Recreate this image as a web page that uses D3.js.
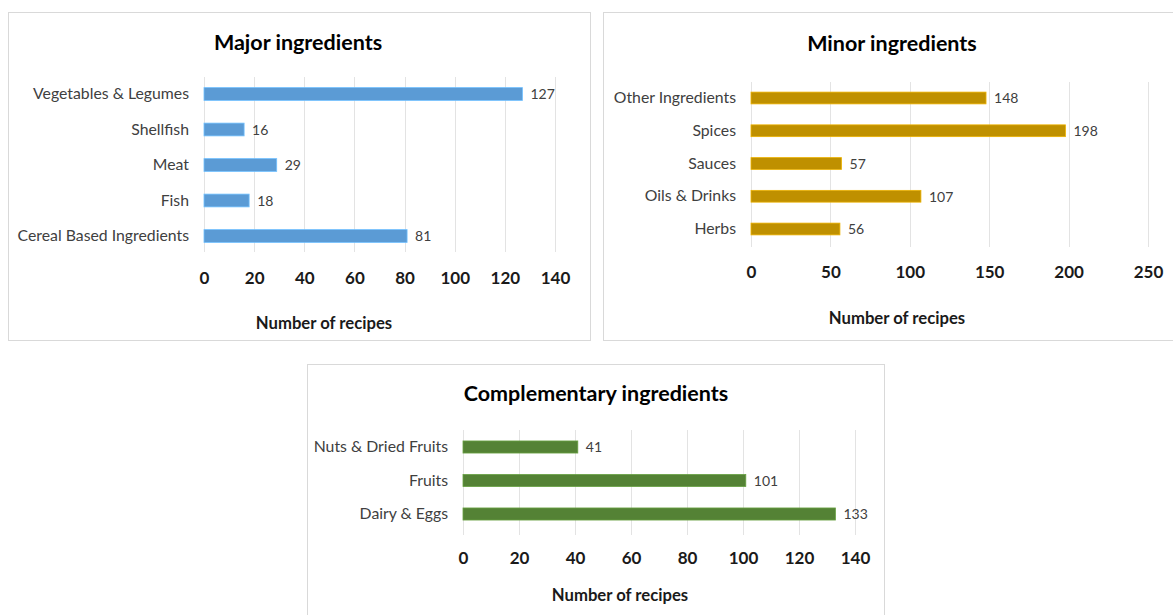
<!DOCTYPE html>
<html><head><meta charset="utf-8">
<script src="https://cdn.jsdelivr.net/npm/d3@7"></script>
<style>
html,body{margin:0;padding:0;background:#fff;}
svg{display:block;font-family:Lato,"Open Sans",sans-serif;}
</style></head>
<body><svg id="c" width="1173" height="615"></svg>
<script>
const majorCategories = ["Vegetables & Legumes","Shellfish","Meat","Fish","Cereal Based Ingredients"];
const majorValues = [127,16,29,18,81];
const majorTicks = [0,20,40,60,80,100,120,140];

const minorCategories = ["Other Ingredients","Spices","Sauces","Oils & Drinks","Herbs"];
const minorValues = [148,198,57,107,56];
const minorTicks = [0,50,100,150,200,250];

const compCategories = ["Nuts & Dried Fruits","Fruits","Dairy & Eggs"];
const compValues = [41,101,133];
const compTicks = [0,20,40,60,80,100,120,140];

const titles = ["Major ingredients","Minor ingredients","Complementary ingredients"];
const axisTitle = "Number of recipes";

const svg = d3.select("#c");

const panels = [
  {cats:majorCategories, vals:majorValues, ticks:majorTicks, title:titles[0], color:"#5B9BD5",
   box:[8,12,582,328], titleXY:[298,42], xr:[204,555], rows:[94,236], grid:[77,252], tickY:278, axXY:[324,323]},
  {cats:minorCategories, vals:minorValues, ticks:minorTicks, title:titles[1], color:"#BF9000",
   box:[603,12,620,328], titleXY:[892,43], xr:[751,1148], rows:[98,229], grid:[82,247], tickY:272, axXY:[897,318]},
  {cats:compCategories, vals:compValues, ticks:compTicks, title:titles[2], color:"#548235",
   box:[307,364,577,300], titleXY:[596,393], xr:[463,855], rows:[447,514], grid:[430,535], tickY:558, axXY:[620,595]}
];

panels.forEach(p => {
  const g = svg.append("g");
  g.append("rect").attr("x",p.box[0]+0.5).attr("y",p.box[1]+0.5).attr("width",p.box[2]).attr("height",p.box[3])
    .attr("fill","#fff").attr("stroke","#D9D9D9").attr("stroke-width",1);
  g.append("text").attr("x",p.titleXY[0]).attr("y",p.titleXY[1]).attr("text-anchor","middle")
    .attr("dy","0.35em").attr("font-size",21.5).attr("font-weight","bold").attr("fill","#000").text(p.title);

  const x = d3.scaleLinear().domain([p.ticks[0], p.ticks[p.ticks.length-1]]).range(p.xr);
  const n = p.cats.length;
  const step = (p.rows[1]-p.rows[0])/(n-1);
  const y = d3.scaleBand().domain(p.cats).range([p.rows[0]-step/2, p.rows[1]+step/2]).paddingInner(0.64).paddingOuter(0.32);

  g.append("g").selectAll("line").data(p.ticks).join("line")
    .attr("x1",d=>Math.round(x(d))+0.5).attr("x2",d=>Math.round(x(d))+0.5)
    .attr("y1",p.grid[0]).attr("y2",p.grid[1]).attr("stroke","#E3E3E3").attr("stroke-width",1);

  g.append("g").selectAll("rect").data(p.cats).join("rect")
    .attr("x",x(0)).attr("y",d=>y(d)).attr("height",y.bandwidth())
    .attr("width",(d,i)=>x(p.vals[i])-x(0)).attr("fill",p.color)
    .attr("stroke",d3.color(p.color).brighter(0.6)).attr("stroke-width",0.8);

  g.append("g").selectAll("text").data(p.cats).join("text")
    .attr("x",(d,i)=>x(p.vals[i])+8).attr("y",d=>y(d)+y.bandwidth()/2).attr("dy","0.38em")
    .attr("font-size",14).attr("fill","#404040").text((d,i)=>p.vals[i]);

  const ya = g.append("g").attr("transform",`translate(${x(0)},0)`)
    .call(d3.axisLeft(y).tickSize(0).tickPadding(15));
  ya.select(".domain").remove();
  ya.selectAll("text").attr("font-size",15.8).attr("fill","#404040").attr("font-family","Lato,'Open Sans',sans-serif");

  const xa = g.append("g").attr("transform",`translate(0,${p.tickY})`)
    .call(d3.axisBottom(x).tickValues(p.ticks).tickSize(0).tickPadding(0));
  xa.select(".domain").remove();
  xa.selectAll("text").attr("dy","0.35em").attr("font-size",17).attr("font-weight","bold")
    .attr("fill","#1a1a1a").attr("font-family","Lato,'Open Sans',sans-serif");

  g.append("text").attr("x",p.axXY[0]).attr("y",p.axXY[1]).attr("text-anchor","middle").attr("dy","0.35em")
    .attr("font-size",16.7).attr("font-weight","bold").attr("fill","#1a1a1a").text(axisTitle);
});
</script></body></html>
